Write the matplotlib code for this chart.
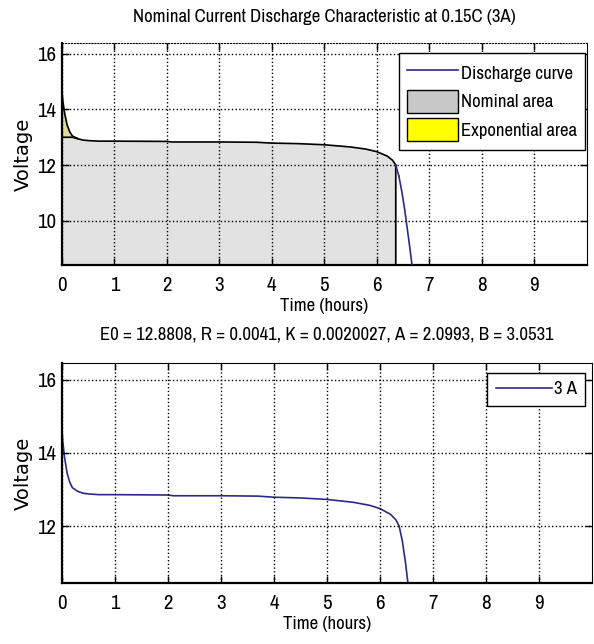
import numpy as np
import matplotlib.pyplot as plt
from matplotlib.patches import Patch
from matplotlib.lines import Line2D

# discharge curve
time_h = [0, 0.02, 0.05, 0.1, 0.15, 0.2, 0.3, 0.4, 0.5, 0.7, 1.0, 2.0, 2.1, 3.0, 3.7,
          4.0, 4.5, 5.0, 5.5, 5.8, 6.0, 6.2, 6.3, 6.36, 6.42, 6.48, 6.53, 6.58, 6.63, 6.67]
voltage = [14.7, 14.3, 13.9, 13.45, 13.2, 13.05, 12.95, 12.9, 12.88, 12.86, 12.86, 12.85, 12.83,
           12.83, 12.82, 12.79, 12.77, 12.73, 12.65, 12.57, 12.48, 12.32, 12.17, 12.0, 11.6,
           11.0, 10.4, 9.7, 9.0, 8.4]

nominal_v = 13.0      # top of nominal area / bottom of exponential area
nominal_end = 6.36    # end of nominal area (hours)
exp_end = 0.35        # end of exponential area (hours)

title_top = 'Nominal Current Discharge Characteristic at 0.15C (3A)'
title_bottom = 'E0 = 12.8808, R = 0.0041, K = 0.0020027, A = 2.0993, B = 3.0531'

plt.rcParams['font.family'] = ['Archivo Narrow', 'DejaVu Sans']
line_color = '#2b2b85'
FS = 13.5


def style_axes(ax, yticks, ylim, dotted_top=False):
    ax.set_xlim(0, 10)
    ax.set_ylim(*ylim)
    ax.set_xticks(range(10))
    ax.set_yticks(yticks)
    ax.tick_params(direction='in', labelsize=15, length=5, width=1, top=True, right=True)
    ax.tick_params(axis='x', pad=8)
    ax.tick_params(axis='y', pad=4)
    ax.grid(True, linestyle=':', color='black', linewidth=1.0)
    ax.set_axisbelow(False)
    for s in ['left', 'bottom']:
        ax.spines[s].set_linewidth(1.6)
    ax.spines['right'].set_linewidth(0.8)
    ax.spines['top'].set_linewidth(0.8)
    if dotted_top:
        ax.spines['top'].set_linestyle(':')
    ax.set_xlabel('Time (hours)', fontsize=FS, labelpad=2)
    ax.set_ylabel('Voltage', fontsize=14, family='DejaVu Sans', labelpad=3)


def main():
    t = np.array(time_h)
    v = np.array(voltage)

    fig = plt.figure(figsize=(5.94, 6.44), dpi=100)
    ax1 = fig.add_axes([0.104, 0.5885, 0.884, 0.345])
    ax2 = fig.add_axes([0.104, 0.0947, 0.893, 0.3416])

    # top plot
    nom = t <= nominal_end
    ax1.fill_between(t[nom], 0, np.minimum(v[nom], nominal_v), color='#e2e2e2', zorder=1)
    ax1.plot(np.r_[0, t[nom], nominal_end], np.r_[8.4, np.minimum(v[nom], nominal_v), 8.4],
             color='black', linewidth=1.2, zorder=3)
    ex = t <= exp_end
    ax1.fill_between(t[ex], nominal_v, v[ex], color='#dede9a', zorder=1)
    ax1.plot(t[ex], v[ex], color='black', linewidth=1.2, zorder=3)
    ax1.plot(t[~nom], v[~nom], color=line_color, linewidth=1.2, zorder=3)
    ax1.plot([t[nom][-1], t[~nom][0]], [v[nom][-1], v[~nom][0]], color=line_color, linewidth=1.2, zorder=3)
    style_axes(ax1, [10, 12, 14, 16], (8.4, 16.4), dotted_top=True)
    ax1.set_title(title_top, fontsize=FS, pad=15)

    handles = [Line2D([], [], color=line_color, linewidth=1.2),
               Patch(facecolor='#c8c8c8', edgecolor='black'),
               Patch(facecolor='yellow', edgecolor='black')]
    leg = ax1.legend(handles, ['Discharge curve', 'Nominal area', 'Exponential area'],
                     loc='upper right', bbox_to_anchor=(0.997, 0.955), borderaxespad=0,
                     fontsize=FS, fancybox=False, framealpha=1,
                     edgecolor='black', handlelength=2.7, handleheight=1.5, handletextpad=0.15,
                     labelspacing=0.3, borderpad=0.45)
    leg.get_frame().set_linewidth(1.0)

    # bottom plot
    ax2.plot(t, v, color=line_color, linewidth=1.2, label='3 A')
    style_axes(ax2, [12, 14, 16], (10.45, 16.45))
    ax2.set_title(title_bottom, fontsize=FS, pad=17)
    leg2 = ax2.legend(loc='upper right', bbox_to_anchor=(0.987, 0.955), borderaxespad=0,
                      fontsize=FS, fancybox=False, framealpha=1,
                      edgecolor='black', handlelength=3.0, handletextpad=0.1,
                      borderpad=0.45)
    leg2.get_frame().set_linewidth(1.0)

    fig.savefig('out.png', dpi=100)


if __name__ == "__main__":
    main()
